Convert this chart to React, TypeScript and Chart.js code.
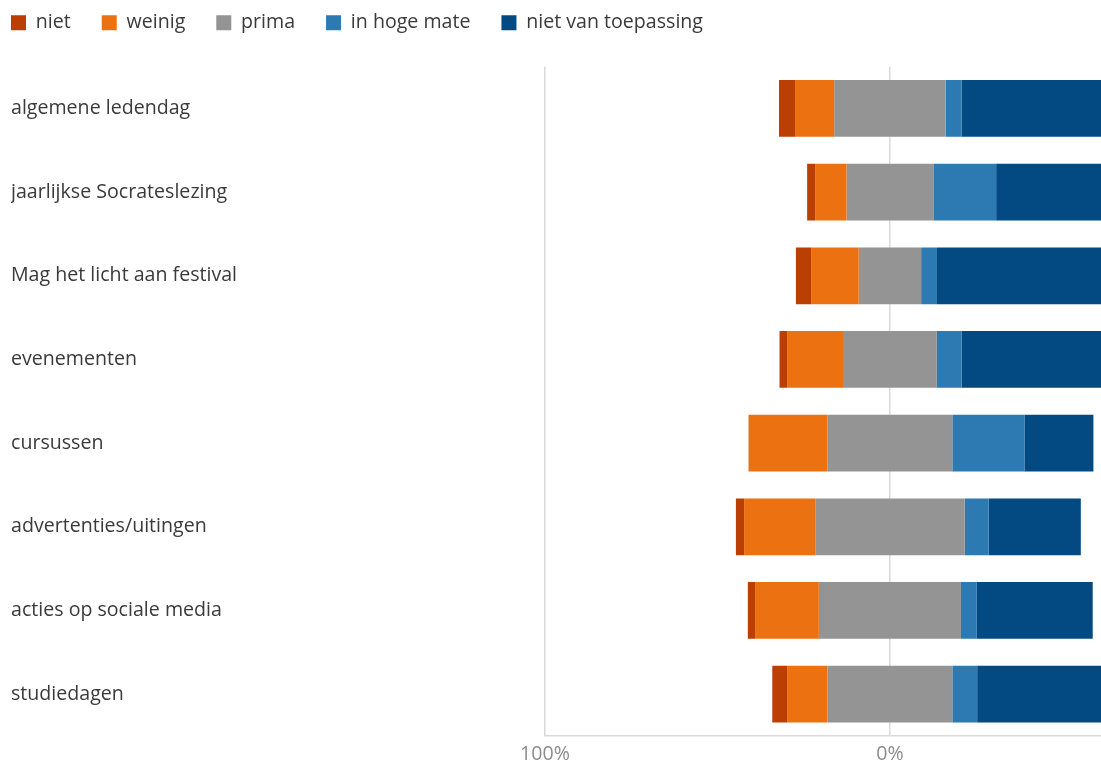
import React, { useEffect, useRef } from 'react';
import { Chart, registerables } from 'chart.js';

Chart.register(...registerables);

const categories = [
  'algemene ledendag',
  'jaarlijkse Socrateslezing',
  'Mag het licht aan festival',
  'evenementen',
  'cursussen',
  'advertenties/uitingen',
  'acties op sociale media',
  'studiedagen',
];

const niet = [4.8, 2.4, 4.5, 2.3, 0, 2.4, 2.1, 4.4];
const weinig = [11.2, 9.0, 13.7, 16.1, 22.9, 20.6, 18.5, 11.6];
const prima = [32.3, 25.2, 18.1, 27.2, 36.2, 43.3, 41.2, 36.2];
const inHogeMate = [4.6, 18.2, 4.6, 7.2, 20.9, 7.0, 4.6, 7.2];
const nietVanToepassing = [47.1, 45.2, 59.1, 47.2, 20.0, 26.7, 33.6, 40.6];

const seriesNames = ['niet', 'weinig', 'prima', 'in hoge mate', 'niet van toepassing'];
const seriesColors = ['#bb3e03', '#ec7211', '#949494', '#2d79b2', '#034a82'];
const xTicks = [-100, 0];

const LEGEND_PAD = 31;
const TOP_PAD = 6;
const FONT = "'Open Sans', sans-serif";

function buildDatasets() {
  const series = [niet, weinig, prima, inHogeMate, nietVanToepassing];
  const ranges: number[][][] = series.map(() => []);
  categories.forEach((_, i) => {
    let cursor = -(niet[i] + weinig[i] + prima[i] / 2);
    series.forEach((s, k) => {
      const start = cursor;
      cursor += s[i];
      ranges[k].push([start, cursor]);
    });
  });
  return series.map((_, k) => ({
    label: seriesNames[k],
    data: ranges[k],
    backgroundColor: seriesColors[k],
    borderWidth: 0,
    grouped: false,
    categoryPercentage: 1,
    barPercentage: 0.678,
  }));
}

const legendShift = {
  id: 'legendShift',
  afterLayout(chart: any) {
    const lg = chart.legend;
    if (!lg) return;
    lg.left -= LEGEND_PAD;
    lg.right -= LEGEND_PAD;
    lg.top -= 18 + TOP_PAD;
    lg.bottom -= 18 + TOP_PAD;
  },
};

export default function App() {
  const ref = useRef<HTMLCanvasElement | null>(null);

  useEffect(() => {
    if (!ref.current) return;
    const chart = new Chart(ref.current, {
      type: 'bar',
      data: {
        labels: categories,
        datasets: buildDatasets() as any,
      },
      plugins: [legendShift],
      options: {
        indexAxis: 'y',
        animation: false,
        responsive: true,
        maintainAspectRatio: false,
        layout: { padding: { left: 11, right: 0, top: TOP_PAD, bottom: 0 } },
        plugins: {
          legend: {
            position: 'top',
            align: 'start',
            labels: {
              boxWidth: 15,
              boxHeight: 15,
              padding: LEGEND_PAD,
              color: '#3a3a3a',
              font: { family: FONT, size: 19.6 },
            },
          },
          tooltip: { enabled: false },
        },
        scales: {
          x: {
            type: 'linear',
            min: -100,
            max: 61.2,
            z: 1,
            afterBuildTicks: (axis: any) => {
              axis.ticks = xTicks.map((value) => ({ value }));
            },
            afterFit: (scale: any) => {
              scale.height = 25;
            },
            grid: {
              color: '#d9d9d9',
              lineWidth: 1.5,
              drawTicks: false,
            },
            border: { display: true, color: '#d9d9d9', width: 1.5 },
            ticks: {
              padding: 7,
              color: '#8c8c8c',
              font: { family: FONT, size: 19.6 },
              callback: (v: any) => Math.abs(Number(v)) + '%',
            },
          },
          y: {
            type: 'category',
            afterFit: (scale: any) => {
              scale.width = 534;
            },
            grid: { display: false },
            border: { display: false },
            ticks: {
              crossAlign: 'far',
              color: '#3a3a3a',
              font: { family: FONT, size: 19.6 },
            },
          },
        },
      } as any,
    });
    return () => chart.destroy();
  }, []);

  return (
    <div style={{ position: 'fixed', left: 0, top: 0, width: 1101, height: 761, background: '#ffffff' }}>
      <canvas ref={ref} />
    </div>
  );
}
